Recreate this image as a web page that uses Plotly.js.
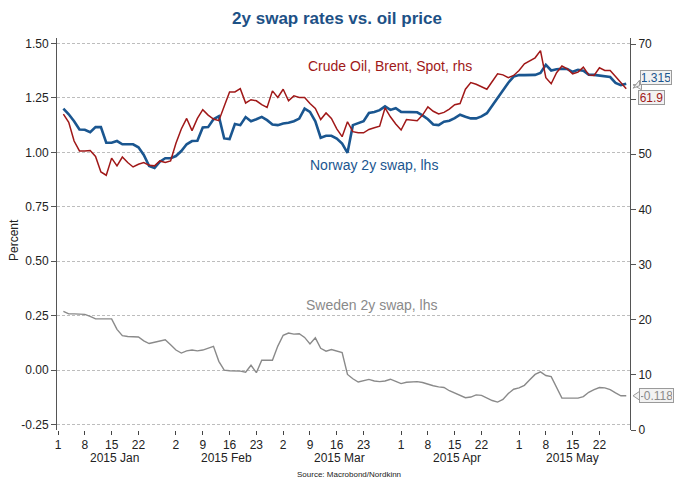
<!DOCTYPE html>
<html><head><meta charset="utf-8">
<script src="https://cdn.plot.ly/plotly-3.0.1.min.js"></script>
<style>html,body{margin:0;padding:0;background:#fff}#chart{width:674px;height:480px}</style>
</head><body><div id="chart"></div>
<script>
// ---- data ----
const firstDate = '2015-01-02';
const lastDate = '2015-05-29';

const norway = [
  1.201, 1.175, 1.143, 1.105, 1.104, 1.093, 1.116, 1.116, 1.044, 1.044,
  1.052, 1.037, 1.037, 1.037, 1.023, 0.988, 0.937, 0.928, 0.957, 0.973,
  0.973, 0.983, 1.006, 1.037, 1.052, 1.053, 1.114, 1.116, 1.152, 1.166,
  1.064, 1.061, 1.130, 1.125, 1.162, 1.143, 1.152, 1.163, 1.148, 1.128,
  1.125, 1.133, 1.136, 1.143, 1.155, 1.201, 1.186, 1.143, 1.067, 1.076,
  1.076, 1.063, 1.040, 0.998, 1.125, 1.135, 1.143, 1.181, 1.185, 1.194,
  1.211, 1.195, 1.203, 1.186, 1.186, 1.186, 1.184, 1.170, 1.152, 1.128,
  1.125, 1.141, 1.145, 1.157, 1.173, 1.164, 1.156, 1.156, 1.165, 1.180,
  1.215, 1.250, 1.285, 1.320, 1.348, 1.355, 1.355, 1.355, 1.356, 1.365,
  1.402, 1.376, 1.382, 1.384, 1.383, 1.370, 1.379, 1.375, 1.357, 1.356,
  1.352, 1.347, 1.346, 1.319, 1.309, 1.315
];

const crude = [
  57.3, 55.8, 52.4, 50.6, 50.6, 50.7, 49.6, 46.8, 46.2, 49.3,
  47.9, 49.5, 48.5, 47.7, 48.2, 48.5, 48.0, 47.9, 48.8, 48.5,
  48.8, 52.0, 54.6, 56.5, 54.3, 56.5, 58.1, 57.1, 56.4, 56.1,
  58.7, 61.3, 61.3, 61.9, 59.3, 59.9, 59.7, 59.0, 58.5, 61.5,
  60.3, 61.8, 59.7, 60.6, 60.3, 60.3, 59.2, 58.3, 56.3, 57.5,
  56.5, 54.6, 53.2, 55.9, 54.1, 53.9, 53.9, 54.5, 54.8, 55.1,
  58.4, 56.8, 55.5, 54.4, 56.3, 56.2, 56.1, 57.1, 58.6, 57.8,
  57.3, 57.6, 58.2, 59.0, 59.2, 61.8, 63.0, 62.7, 62.2, 61.8,
  63.2, 64.6, 64.4, 63.9, 64.3, 65.2, 66.4, 66.9, 67.5, 68.8,
  63.9, 62.8, 64.8, 66.0, 65.5, 64.6, 64.9, 65.8, 64.4, 64.3,
  65.7, 65.2, 65.2, 64.1, 62.9, 61.9
];

const sweden = [
  0.270, 0.258, 0.258, 0.258, 0.256, 0.247, 0.235, 0.235, 0.235, 0.235,
  0.187, 0.158, 0.154, 0.152, 0.152, 0.134, 0.122, 0.128, 0.134, 0.139,
  0.116, 0.092, 0.078, 0.088, 0.092, 0.088, 0.092, 0.100, 0.109, 0.040,
  0.000, -0.003, -0.003, -0.005, -0.010, 0.022, -0.012, 0.045, 0.045, 0.045,
  0.110, 0.160, 0.170, 0.165, 0.167, 0.150, 0.120, 0.148, 0.100, 0.087,
  0.094, 0.088, 0.080, -0.020, -0.040, -0.055, -0.048, -0.043, -0.050, -0.053,
  -0.050, -0.042, -0.052, -0.062, -0.056, -0.053, -0.053, -0.057, -0.066, -0.072,
  -0.077, -0.080, -0.095, -0.105, -0.117, -0.127, -0.124, -0.114, -0.116, -0.127,
  -0.140, -0.147, -0.135, -0.108, -0.088, -0.082, -0.070, -0.045, -0.020, -0.008,
  -0.025, -0.030, -0.076, -0.129, -0.129, -0.129, -0.129, -0.122, -0.102, -0.090,
  -0.080, -0.082, -0.090, -0.105, -0.118, -0.118
];

const tickDates = ['2015-01-01','2015-01-08','2015-01-15','2015-01-22',
  '2015-02-02','2015-02-09','2015-02-16','2015-02-23',
  '2015-03-02','2015-03-09','2015-03-16','2015-03-23',
  '2015-04-01','2015-04-08','2015-04-15','2015-04-22',
  '2015-05-01','2015-05-08','2015-05-15','2015-05-22'];
const tickLabels = ['1','8','15','22','2','9','16','23','2','9','16','23','1','8','15','22','1','8','15','22'];
const monthStarts = ['2015-01-01','2015-02-01','2015-03-01','2015-04-01','2015-05-01'];
const monthEnds = ['2015-01-31','2015-02-28','2015-03-31','2015-04-30','2015-05-29'];
const monthLabels = ['2015 Jan','2015 Feb','2015 Mar','2015 Apr','2015 May'];

const leftTicks = [-0.25, 0, 0.25, 0.5, 0.75, 1.0, 1.25, 1.5];
const leftTickText = ['-0.25','0.00','0.25','0.50','0.75','1.00','1.25','1.50'];
const rightTicks = [0, 10, 20, 30, 40, 50, 60, 70];
// the "60" label is hidden behind the crude-oil end tag in the reference
const rightTickText = ['0', '10', '20', '30', '40', '50', '', '70'];

// ---- business-day axis helpers ----
const origin = '2015-01-01';
function bdList(a, b) {
  const out = [];
  let d = new Date(a + 'T00:00:00Z');
  const e = new Date(b + 'T00:00:00Z');
  while (d <= e) {
    const w = d.getUTCDay();
    if (w !== 0 && w !== 6) out.push(d.toISOString().slice(0, 10));
    d = new Date(d.getTime() + 86400000);
  }
  return out;
}
function bdIndex(s) { return bdList(origin, s).length - 1; }

const dates = bdList(firstDate, lastDate);
const xs = dates.map(bdIndex);
const tickVals = tickDates.map(bdIndex);
const monthCenters = monthStarts.map((s, k) => {
  const l = bdList(s, monthEnds[k]);
  return (bdIndex(l[0]) + bdIndex(l[l.length - 1])) / 2;
});

const yRange = [-0.2753, 1.5253];
const y2Range = [0, 71.09];
const font = 'Liberation Sans, Arial, sans-serif';
const cBlue = '#1a5690', cRed = '#a01818', cGrey = '#8a8a8a';

const traces = [
  {x: xs, y: sweden, type: 'scatter', mode: 'lines', line: {color: cGrey, width: 1.4}, yaxis: 'y', hoverinfo: 'none'},
  {x: xs, y: crude, type: 'scatter', mode: 'lines', line: {color: cRed, width: 1.5}, yaxis: 'y2', hoverinfo: 'none'},
  {x: xs, y: norway, type: 'scatter', mode: 'lines', line: {color: cBlue, width: 2.6}, yaxis: 'y', hoverinfo: 'none'}
];

function py(v, r) { return (v - r[0]) / (r[1] - r[0]); }

const lastN = norway[norway.length - 1];
const lastC = crude[crude.length - 1];
const lastS = sweden[sweden.length - 1];

function note(text, x, y, size, color, extra) {
  return Object.assign({text: text, xref: 'paper', yref: 'paper', x: x, y: y, xanchor: 'center', yanchor: 'middle',
    showarrow: false, font: {family: font, size: size, color: color}}, extra || {});
}
const tagBox = {bgcolor: '#f2f2f2', bordercolor: '#9a9a9a', borderwidth: 1, borderpad: 1, height: 11};

const annotations = [
  note('Crude Oil, Brent, Spot, rhs', (390 - 57) / 573, (430 - 66) / 392, 14, cRed),
  note('Norway 2y swap, lhs', (374 - 57) / 573, (430 - 165) / 392, 14, cBlue),
  note('Sweden 2y swap, lhs', (372 - 57) / 573, (430 - 305) / 392, 14, cGrey),
  note('Percent', (14 - 57) / 573, (430 - 240) / 392, 12, '#222', {textangle: -90}),
  note('Source: Macrobond/Nordkinn', (349 - 57) / 573, (430 - 474) / 392, 8, '#222'),
  note(lastN.toFixed(3), (656 - 57) / 573, py(lastN, yRange), 12, cBlue, Object.assign({yshift: 6, width: 28}, tagBox)),
  note(lastC.toFixed(1), (651.5 - 57) / 573, py(lastC, y2Range), 12, cRed, Object.assign({yshift: -8.5, width: 23}, tagBox)),
  note(lastS.toFixed(3), (656.5 - 57) / 573, py(lastS, yRange), 12, cGrey, Object.assign({width: 31}, tagBox))
];
monthLabels.forEach((m, k) => annotations.push({
  text: m, xref: 'x', yref: 'paper', x: monthCenters[k], y: (430 - 458) / 392, xanchor: 'center', yanchor: 'middle', showarrow: false,
  font: {family: font, size: 12, color: '#222'}
}));

function pointer(v, r, path) {
  return {type: 'path', xref: 'paper', yref: 'paper', xsizemode: 'pixel', ysizemode: 'pixel',
    xanchor: 1, yanchor: py(v, r), path: path, fillcolor: '#f2f2f2', line: {color: '#9a9a9a', width: 1}, layer: 'above'};
}
const shapes = [
  pointer(lastN, yRange, 'M3,-1 L11.5,0 L11.5,-6 Z'),
  pointer(lastC, y2Range, 'M3,0.5 L9.5,3 L9.5,8.5 Z'),
  pointer(lastS, yRange, 'M3,0 L10.5,-5 L10.5,5 Z')
];

const layout = {
  width: 674, height: 480,
  margin: {l: 57, r: 44, t: 38, b: 50, pad: 0},
  paper_bgcolor: '#fff', plot_bgcolor: '#fff',
  showlegend: false,
  font: {family: font, size: 12, color: '#222'},
  title: {text: '<b>2y swap rates vs. oil price</b>', x: 0.5, xref: 'container', y: 1 - 18 / 480, yref: 'container', yanchor: 'middle',
    font: {family: font, size: 17, color: '#1d5186'}},
  xaxis: {range: [-0.19, 106.7], tickvals: tickVals, ticktext: tickLabels, showgrid: false, zeroline: false,
    showline: false, ticks: 'outside', ticklen: 4, tickcolor: '#444', tickfont: {family: font, size: 12, color: '#222'}, fixedrange: true},
  yaxis: {range: yRange, tickvals: leftTicks, ticktext: leftTickText, showline: true, linecolor: '#555', linewidth: 1,
    ticks: 'outside', ticklen: 5, tickcolor: '#555', gridcolor: '#bdbdbd', griddash: '3px,2px', gridwidth: 1, zeroline: false,
    tickfont: {family: font, size: 12, color: '#222'}},
  yaxis2: {range: y2Range, tickvals: rightTicks, ticktext: rightTickText, overlaying: 'y', side: 'right', anchor: 'x', showgrid: false, zeroline: false,
    showline: true, linecolor: '#555', linewidth: 1, ticks: 'outside', ticklen: 5, tickcolor: '#555',
    tickfont: {family: font, size: 12, color: '#222'}},
  annotations: annotations,
  shapes: shapes
};

Plotly.newPlot('chart', traces, layout, {staticPlot: true, displayModeBar: false});
</script>
</body></html>
